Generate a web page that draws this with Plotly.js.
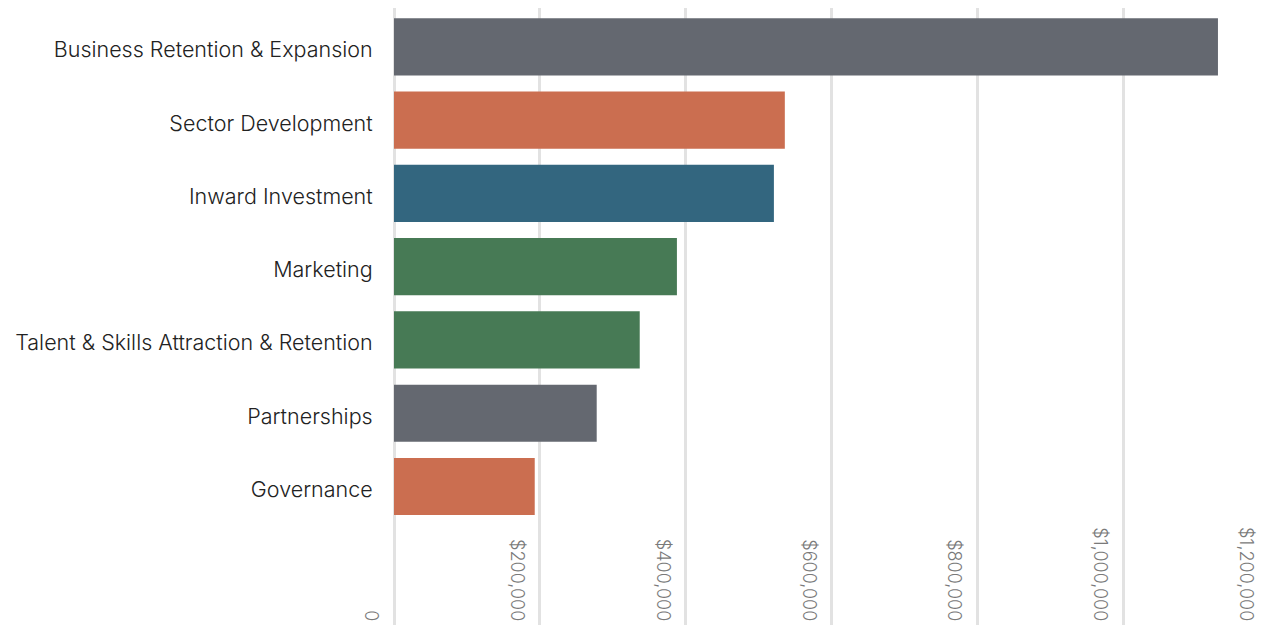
<!DOCTYPE html>
<html>
<head>
<meta charset="utf-8">
<script src="https://cdn.plot.ly/plotly-3.0.1.min.js"></script>
<style>html,body{margin:0;padding:0;background:#fff;}#chart{width:1274px;height:625px;}</style>
</head>
<body>
<div id="chart"></div>
<script>
const categories = [
  "Business Retention & Expansion",
  "Sector Development",
  "Inward Investment",
  "Marketing",
  "Talent & Skills Attraction & Retention",
  "Partnerships",
  "Governance"
];
const values = [1130000, 536000, 521000, 388000, 337000, 278000, 193000];
const barColors = ["#646870", "#cb6e50", "#33667f", "#477a55", "#477a55", "#646870", "#cb6e50"];
const tickValues = [0, 200000, 400000, 600000, 800000, 1000000, 1200000];
const tickLabels = ["0", "$200,000", "$400,000", "$600,000", "$800,000", "$1,000,000", "$1,200,000"];

const trace = {
  type: "bar",
  orientation: "h",
  y: categories,
  x: values,
  marker: {color: barColors},
  hoverinfo: "x+y"
};

const layout = {
  width: 1274,
  height: 625,
  margin: {l: 394, r: 5, t: 8, b: 0, pad: 0},
  paper_bgcolor: "#ffffff",
  plot_bgcolor: "#ffffff",
  showlegend: false,
  bargap: 0.22,
  font: {family: "Inter, sans-serif"},
  xaxis: {
    range: [0, 1200000],
    side: "top",
    anchor: "free",
    position: 0,
    tickvals: tickValues,
    ticktext: tickLabels,
    tickangle: 90,
    ticks: "",
    ticklabelshift: -23,
    ticklabelstandoff: 1,
    tickfont: {family: "Inter, sans-serif", size: 18, color: "#7a7a7a", weight: 300},
    showgrid: true,
    gridcolor: "#e2e2e2",
    gridwidth: 3,
    zeroline: true,
    zerolinecolor: "#e2e2e2",
    zerolinewidth: 3,
    showline: false,
    fixedrange: true
  },
  yaxis: {
    type: "category",
    range: [7.89, -0.53],
    tickfont: {family: "Inter, sans-serif", size: 21.5, color: "#222222", weight: 300},
    ticks: "outside",
    ticklen: 16,
    tickcolor: "rgba(0,0,0,0)",
    ticklabelshift: -3,
    showgrid: false,
    zeroline: false,
    showline: false,
    fixedrange: true
  }
};

Plotly.newPlot("chart", [trace], layout, {displayModeBar: false, staticPlot: true});
</script>
</body>
</html>
